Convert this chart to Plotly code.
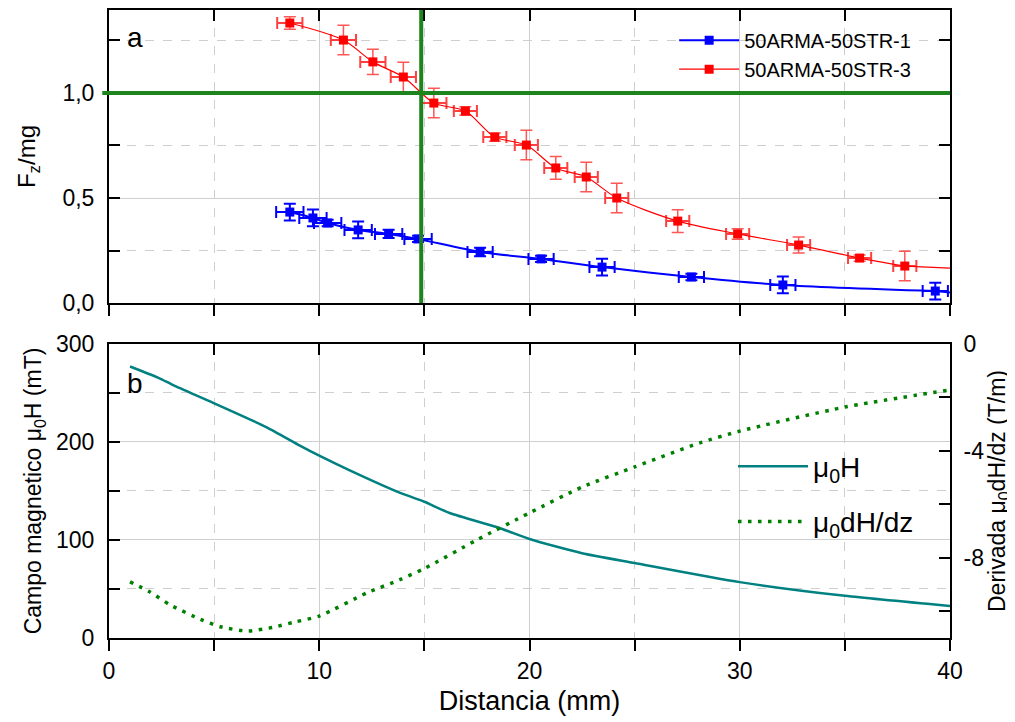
import plotly.graph_objects as go

# ---------------- data ----------------
# Top panel: normalised force Fz/mg vs distance
blue_name = "50ARMA-50STR-1"
blue_x = [8.6, 9.7, 10.4, 11.85, 13.3, 14.7, 17.65, 20.55, 23.45, 27.7, 32.05, 39.3]
blue_y = [0.433, 0.405, 0.381, 0.348, 0.329, 0.305, 0.243, 0.210, 0.171, 0.124, 0.086, 0.057]
blue_yerr = [0.04, 0.04, 0.015, 0.04, 0.02, 0.015, 0.02, 0.015, 0.04, 0.015, 0.04, 0.04]
blue_xerr = [0.65, 0.65, 0.65, 0.65, 0.65, 0.65, 0.6, 0.6, 0.6, 0.6, 0.6, 0.6]
blue_tail_x = [39.3, 40.0]
blue_tail_y = [0.057, 0.050]

red_name = "50ARMA-50STR-3"
red_x = [8.6, 11.15, 12.55, 14.0, 15.45, 16.95, 18.35, 19.85, 21.25, 22.7, 24.15, 27.05, 29.9, 32.8, 35.7, 37.85]
red_y = [1.333, 1.252, 1.148, 1.076, 0.952, 0.914, 0.790, 0.752, 0.643, 0.600, 0.500, 0.390, 0.329, 0.276, 0.214, 0.176]
red_yerr = [0.03, 0.07, 0.06, 0.07, 0.07, 0.02, 0.02, 0.07, 0.054, 0.07, 0.07, 0.054, 0.025, 0.038, 0.015, 0.07]
red_xerr = [0.6, 0.6, 0.6, 0.6, 0.6, 0.55, 0.55, 0.55, 0.55, 0.55, 0.55, 0.55, 0.55, 0.55, 0.55, 0.55]
red_tail_x = [37.85, 40.0]
red_tail_y = [0.176, 0.166]

# reference lines in top panel
threshold_y = 1.0      # Fz/mg = 1
crossing_x = 14.85     # distance where red curve crosses 1

# Bottom panel: magnetic field and its derivative
h_x = [1.0, 2.4, 3.05, 4.95, 7.5, 9.1, 10.0, 11.45, 13.85, 15.0, 16.2, 18.6, 20.0, 22.5, 25.0, 30.0, 35.0, 40.0]
h_y = [277, 265, 258, 240, 215, 196, 186, 171, 148, 139, 127.5, 112, 101, 86.5, 76.5, 57, 43, 32.6]

d_x = [1.0, 1.95, 2.9, 4.35, 5.3, 6.6, 7.8, 8.85, 10.0, 12.3, 13.8, 15.0, 17.5, 20.0, 22.5, 25.0, 28.1, 30.0, 35.0, 40.0]
d_y = [-8.9, -9.28, -9.76, -10.3, -10.58, -10.74, -10.6, -10.4, -10.18, -9.3, -8.83, -8.4, -7.33, -6.32, -5.35, -4.6, -3.7, -3.26, -2.36, -1.72]

right_tickvals = [-8, -4, 0]
right_ticktext = ["-8", "-4", "0"]
right_minorvals = [-10, -6, -2]

# ---------------- figure ----------------
FONT = "Liberation Sans, Arial, sans-serif"
GRID = "#cfcfcf"
GREEN = "#1e841e"

fig = go.Figure()

# top panel
fig.add_trace(go.Scatter(
    x=blue_x, y=blue_y, name=blue_name, mode="lines+markers",
    line=dict(color="#0000ff", width=2, shape="spline", smoothing=0.8),
    marker=dict(symbol="square", size=9, color="#0000ff"),
    error_y=dict(type="data", array=blue_yerr, color="#0000ff", thickness=2, width=6),
    error_x=dict(type="data", array=blue_xerr, color="#0000ff", thickness=2, width=6),
    xaxis="x", yaxis="y", legend="legend"))
fig.add_trace(go.Scatter(
    x=blue_tail_x, y=blue_tail_y, mode="lines", showlegend=False,
    line=dict(color="#0000ff", width=2), xaxis="x", yaxis="y"))
fig.add_trace(go.Scatter(
    x=red_x, y=red_y, name=red_name, mode="lines+markers",
    line=dict(color="#ff0000", width=1.2, shape="spline", smoothing=0.8),
    marker=dict(symbol="square", size=9, color="#ff0000"),
    error_y=dict(type="data", array=red_yerr, color="rgba(255,30,30,0.75)", thickness=1.5, width=6),
    error_x=dict(type="data", array=red_xerr, color="rgba(255,30,30,0.85)", thickness=2, width=6),
    xaxis="x", yaxis="y", legend="legend"))
fig.add_trace(go.Scatter(
    x=red_tail_x, y=red_tail_y, mode="lines", showlegend=False,
    line=dict(color="#ff0000", width=1.2), xaxis="x", yaxis="y"))

# bottom panel
fig.add_trace(go.Scatter(
    x=h_x, y=h_y, name="μ<sub>0</sub>H", mode="lines",
    line=dict(color="#008080", width=2.5, shape="spline", smoothing=0.6),
    xaxis="x2", yaxis="y2", legend="legend2", legendgroup="g1"))
fig.add_trace(go.Scatter(
    x=d_x, y=d_y, name="μ<sub>0</sub>dH/dz", mode="lines",
    line=dict(color="#008000", width=3.5, dash="3.5px,6.5px", shape="spline", smoothing=0.6),
    xaxis="x2", yaxis="y3", legend="legend2", legendgroup="g2"))

# dummy traces so the overlay (top-edge tick) axes are drawn
fig.add_trace(go.Scatter(x=[], y=[], xaxis="x3", yaxis="y", showlegend=False, hoverinfo="skip"))
fig.add_trace(go.Scatter(x=[], y=[], xaxis="x4", yaxis="y2", showlegend=False, hoverinfo="skip"))

axis_common = dict(linecolor="black", linewidth=2, tickcolor="black", tickwidth=2,
                   ticklen=11, zeroline=False, automargin=False,
                   tickfont=dict(family=FONT, size=23, color="black"))

top_dom = [0.5334, 1.0]
bot_dom = [0.0, 0.4682]

fig.update_layout(
    width=1007, height=714,
    margin=dict(l=101, r=65, t=2, b=84),
    paper_bgcolor="white", plot_bgcolor="white",
    separators=",.",
    font=dict(family=FONT, color="black"),
    showlegend=True,
    xaxis=dict(domain=[0, 1], anchor="y", range=[0, 40], dtick=10, tick0=0,
               ticks="outside", showticklabels=False, mirror=True,
               showgrid=True, gridcolor=GRID, gridwidth=1,
               minor=dict(dtick=5, tick0=0, ticks="outside", ticklen=11, tickwidth=2, tickcolor="black",
                          showgrid=True, gridcolor=GRID, griddash="dash", gridwidth=1),
               **axis_common),
    xaxis3=dict(overlaying="x", anchor="y", side="top", range=[0, 40], dtick=10, tick0=0,
                ticks="inside", showticklabels=False, showgrid=False, showline=False,
                minor=dict(dtick=5, tick0=0, ticks="inside", ticklen=11, tickwidth=2, tickcolor="black",
                           showgrid=False),
                **axis_common),
    yaxis=dict(domain=top_dom, anchor="x", range=[0, 1.395], dtick=0.5, tick0=0,
               tickformat=".1f", ticks="inside", mirror="ticks", ticklabelstandoff=8,
               showgrid=True, gridcolor=GRID, gridwidth=1,
               minor=dict(dtick=0.25, tick0=0, ticks="inside", ticklen=11, tickwidth=2, tickcolor="black",
                          showgrid=True, gridcolor=GRID, griddash="dash", gridwidth=1),
               title=dict(text="F<sub>z</sub>/mg", font=dict(family=FONT, size=24, color="black"),
                          standoff=20),
               **axis_common),
    xaxis2=dict(domain=[0, 1], anchor="y2", range=[0, 40], dtick=10, tick0=0,
                ticks="outside", showticklabels=True, mirror=True,
                showgrid=True, gridcolor=GRID, gridwidth=1,
                minor=dict(dtick=5, tick0=0, ticks="outside", ticklen=11, tickwidth=2, tickcolor="black",
                           showgrid=True, gridcolor=GRID, griddash="dash", gridwidth=1),
                title=dict(text="Distancia (mm)", font=dict(family=FONT, size=27, color="black"),
                           standoff=9),
                **axis_common),
    xaxis4=dict(overlaying="x2", anchor="y2", side="top", range=[0, 40], dtick=10, tick0=0,
                ticks="inside", showticklabels=False, showgrid=False, showline=False,
                minor=dict(dtick=5, tick0=0, ticks="inside", ticklen=11, tickwidth=2, tickcolor="black",
                           showgrid=False),
                **axis_common),
    yaxis2=dict(domain=bot_dom, anchor="x2", range=[0, 300], dtick=100, tick0=0,
                ticks="inside", mirror=False, ticklabelstandoff=8,
                showgrid=True, gridcolor=GRID, gridwidth=1,
                minor=dict(dtick=50, tick0=0, ticks="inside", ticklen=11, tickwidth=2, tickcolor="black",
                           showgrid=True, gridcolor=GRID, griddash="dash", gridwidth=1),
                title=dict(text="Campo magnetico μ<sub>0</sub>H (mT)",
                           font=dict(family=FONT, size=23, color="black"), standoff=8),
                **axis_common),
    yaxis3=dict(overlaying="y2", anchor="x2", side="right", range=[-11, 0],
                tickmode="array", tickvals=right_tickvals, ticktext=right_ticktext,
                ticks="inside", showgrid=False, showline=True, ticklabelstandoff=7,
                minor=dict(tickmode="array", tickvals=right_minorvals, ticks="inside", ticklen=11,
                           tickwidth=2, tickcolor="black", showgrid=False),
                title=dict(text="Derivada μ<sub>0</sub>dH/dz (T/m)",
                           font=dict(family=FONT, size=23, color="black"), standoff=6),
                **axis_common),
    legend=dict(x=0.672, y=0.983, xanchor="left", yanchor="top",
                bgcolor="rgba(0,0,0,0)", borderwidth=0,
                font=dict(family=FONT, size=20, color="black"),
                itemwidth=60, tracegroupgap=0),
    legend2=dict(x=0.742, y=0.313, xanchor="left", yanchor="top",
                 bgcolor="rgba(0,0,0,0)", borderwidth=0,
                 font=dict(family=FONT, size=28, color="black"),
                 itemwidth=70, tracegroupgap=16),
    annotations=[
        dict(text="a", xref="paper", yref="paper", x=0.031, y=0.957, showarrow=False,
             xanchor="center", yanchor="middle",
             font=dict(family=FONT, size=28, color="black")),
        dict(text="b", xref="paper", yref="paper", x=0.031, y=0.406, showarrow=False,
             xanchor="center", yanchor="middle",
             font=dict(family=FONT, size=28, color="black")),
    ],
    shapes=[
        dict(type="line", xref="x", yref="y domain", x0=crossing_x, x1=crossing_x, y0=0, y1=1,
             line=dict(color=GREEN, width=4), layer="above"),
        dict(type="line", xref="paper", yref="y", x0=-0.008, x1=1.0, y0=threshold_y, y1=threshold_y,
             line=dict(color=GREEN, width=4), layer="above"),
    ],
)

fig.write_html("out.html")
